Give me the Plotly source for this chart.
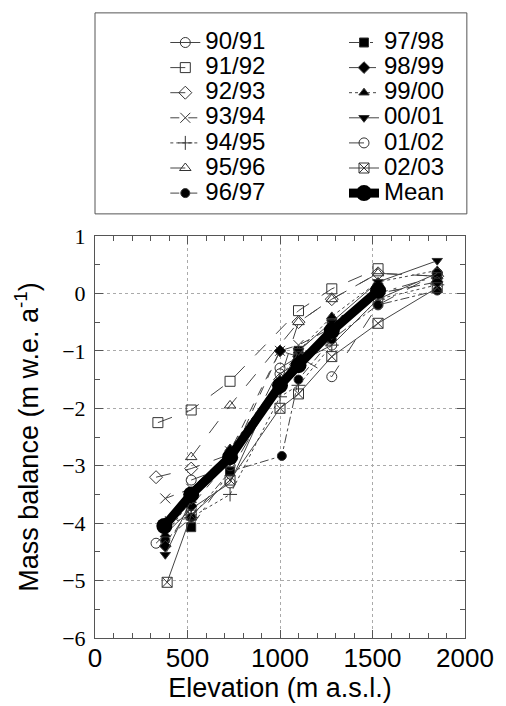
import plotly.graph_objects as go

# ---- data ----
labels = ["90/91", "91/92", "92/93", "93/94", "94/95", "95/96", "96/97",
          "97/98", "98/99", "99/00", "00/01", "01/02", "02/03"]

elev_9091 = [330, 520, 730, 1000, 1100, 1280, 1530, 1850]
mb_9091 = [-4.35, -3.75, -3.3, -1.4, -1.2, -0.9, -0.1, 0.35]
elev_9192 = [340, 520, 730, 1100, 1280, 1530]
mb_9192 = [-2.25, -2.03, -1.53, -0.3, 0.08, 0.43]
elev_9293 = [330, 520, 730, 1000, 1100, 1280, 1530, 1850]
mb_9293 = [-3.2, -3.05, -2.8, -1.5, -0.5, -0.1, 0.35, 0.3]
elev_9394 = [380, 520, 730, 1000, 1100, 1280, 1530, 1850]
mb_9394 = [-3.57, -3.4, -2.75, -1.0, -0.9, -0.6, 0.0, 0.2]
elev_9495 = [380, 520, 730, 1000, 1100, 1280, 1530, 1850]
mb_9495 = [-4.0, -3.9, -3.5, -1.8, -1.6, -0.9, -0.1, 0.15]
elev_9596 = [520, 730, 1100, 1280, 1530, 1850]
mb_9596 = [-2.85, -1.95, -0.5, -0.1, 0.35, 0.3]
elev_9697 = [380, 520, 730, 1010, 1100, 1280, 1530, 1850]
mb_9697 = [-4.3, -3.9, -3.1, -2.83, -1.5, -0.8, -0.2, 0.05]
elev_9798 = [520, 730, 1000, 1100, 1280, 1530, 1850]
mb_9798 = [-4.07, -3.1, -1.6, -1.0, -0.5, 0.0, 0.3]
elev_9899 = [380, 520, 730, 1000, 1100, 1280, 1530, 1850]
mb_9899 = [-4.4, -3.7, -2.9, -1.0, -1.1, -0.7, 0.0, 0.2]
elev_9900 = [380, 520, 730, 1000, 1100, 1280, 1530, 1850]
mb_9900 = [-4.2, -3.6, -2.7, -1.5, -1.0, -0.4, 0.2, 0.4]
elev_0001 = [380, 520, 730, 1000, 1100, 1280, 1530, 1850]
mb_0001 = [-4.55, -3.6, -2.8, -1.7, -1.0, -0.5, 0.2, 0.57]
elev_0102 = [520, 730, 1000, 1100, 1280, 1530, 1850]
mb_0102 = [-3.25, -3.0, -1.3, -1.1, -1.45, -0.2, 0.35]
elev_0203 = [390, 520, 730, 1000, 1100, 1280, 1530, 1850]
mb_0203 = [-5.03, -3.86, -3.25, -2.0, -1.75, -1.1, -0.52, 0.1]
elev_mean = [375, 520, 730, 1000, 1100, 1280, 1530]
mb_mean = [-4.05, -3.5, -2.85, -1.6, -1.25, -0.65, 0.05]

x_ticks = [0, 500, 1000, 1500, 2000]
y_ticks = [-6, -5, -4, -3, -2, -1, 0, 1]

series = [
    (elev_9091, mb_9091), (elev_9192, mb_9192), (elev_9293, mb_9293),
    (elev_9394, mb_9394), (elev_9495, mb_9495), (elev_9596, mb_9596),
    (elev_9697, mb_9697), (elev_9798, mb_9798), (elev_9899, mb_9899),
    (elev_9900, mb_9900), (elev_0001, mb_0001), (elev_0102, mb_0102),
    (elev_0203, mb_0203),
]

symbols = ["circle-open", "square-open", "diamond-open", "x-thin-open",
           "cross-thin-open", "triangle-up-open", "circle", "square",
           "diamond", "triangle-up", "triangle-down", "circle-open",
           "square-x-open"]
dashes = ["solid", "longdash", "longdash", "dash", "dot", "longdash",
          "dashdot", "longdashdot", "dash", "dot", "solid", "longdash", "solid"]


def big(t):
    return '<span style="font-size:24px">' + t + '</span>'


fig = go.Figure()
for i, (lab, (xs, ys)) in enumerate(zip(labels, series)):
    filled = not symbols[i].endswith("open")
    fig.add_trace(go.Scatter(
        x=xs, y=ys, name=big(lab), mode="lines+markers",
        line=dict(color="#444444", width=1, dash=dashes[i]),
        marker=dict(symbol=symbols[i], size=9 if filled else 10,
                    color="black" if filled else "#333333",
                    line=dict(color="#333333", width=1)),
        legend="legend" if i < 7 else "legend2",
    ))

fig.add_trace(go.Scatter(
    x=elev_mean, y=mb_mean, name=big("Mean"), mode="lines+markers",
    line=dict(color="black", width=9),
    marker=dict(symbol="circle", size=16, color="black"),
    legend="legend2",
))

font_family = "Liberation Sans, Arial, sans-serif"
fig.update_layout(
    width=498, height=698,
    margin=dict(l=87, r=35, t=228, b=68),
    paper_bgcolor="white", plot_bgcolor="white",
    font=dict(family=font_family, size=20, color="black"),
    legend=dict(x=0.19, y=1.525, xanchor="left", yanchor="top",
                bgcolor="rgba(0,0,0,0)", font=dict(size=17),
                itemwidth=30, tracegroupgap=0),
    legend2=dict(x=0.673, y=1.525, xanchor="left", yanchor="top",
                 bgcolor="rgba(0,0,0,0)", font=dict(size=17),
                 itemwidth=30, tracegroupgap=0),
    shapes=[dict(type="rect", xref="paper", yref="paper",
                 x0=0.0, x1=1.005, y0=1.055, y1=1.555,
                 line=dict(color="#555555", width=1))],
)

fig.update_xaxes(
    range=[0, 2000], tickvals=x_ticks,
    ticks="inside", ticklen=8, tickcolor="#555555",
    showline=True, linecolor="#555555", linewidth=1, mirror="allticks",
    showgrid=True, gridcolor="#aaaaaa", griddash="dot", gridwidth=1,
    zeroline=False,
    minor=dict(dtick=100, ticks="inside", ticklen=5, tickcolor="#555555",
               showgrid=False),
    title=dict(text="Elevation (m a.s.l.)", font=dict(size=27), standoff=0),
    tickfont=dict(size=26),
    ticklabelstandoff=-3,
)
fig.update_yaxes(
    range=[-6, 1], tickvals=y_ticks,
    ticks="inside", ticklen=8, tickcolor="#555555",
    showline=True, linecolor="#555555", linewidth=1, mirror="allticks",
    showgrid=True, gridcolor="#aaaaaa", griddash="dot", gridwidth=1,
    zeroline=False,
    minor=dict(dtick=0.5, ticks="inside", ticklen=5, tickcolor="#555555",
               showgrid=False),
    title=dict(text="Mass balance (m w.e. a<sup>-1</sup>)", font=dict(size=27),
               standoff=15),
    tickfont=dict(size=22, family="Liberation Serif, Times New Roman, serif"),
    ticklabelstandoff=4,
)

fig.write_html("out.html")
